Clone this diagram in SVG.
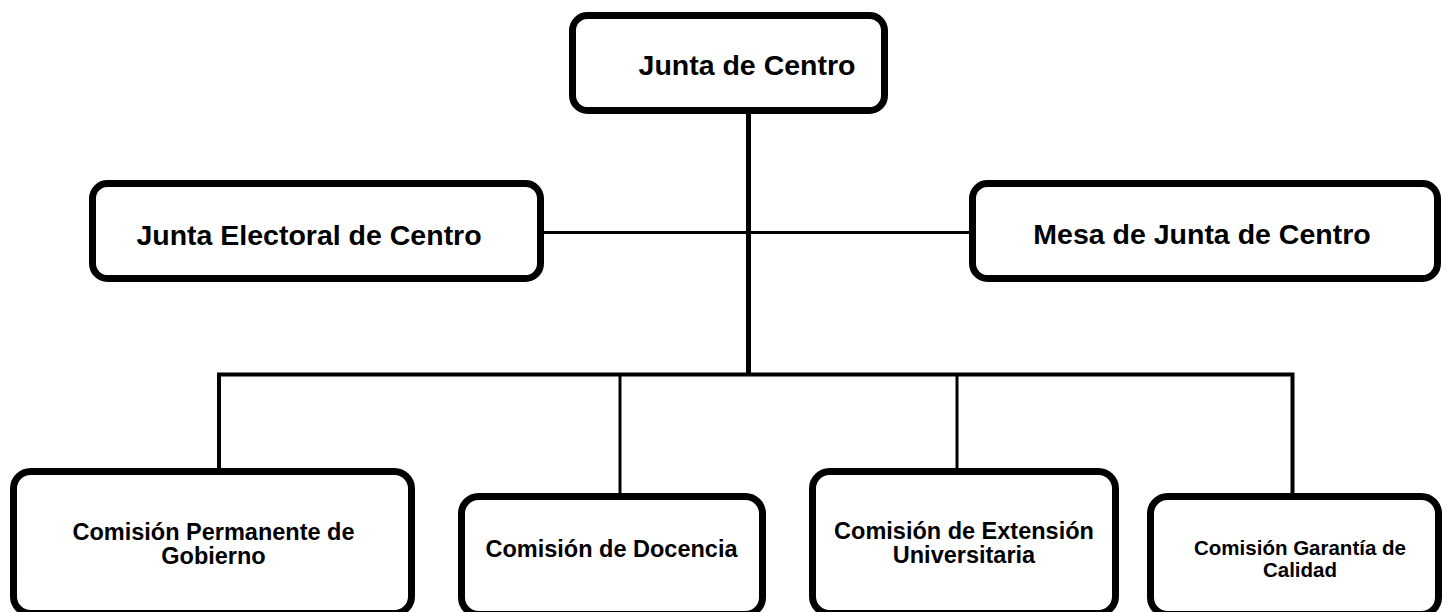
<svg xmlns="http://www.w3.org/2000/svg" width="1447" height="612" viewBox="0 0 1447 612">
<style>
.box{fill:#fff;stroke:#000;stroke-width:7}
.t{font-family:"Liberation Sans",Arial,sans-serif;font-weight:bold;fill:#000;text-anchor:middle}
.big{font-size:28.5px}
.mid{font-size:23.5px}
.sm{font-size:20.5px}
.c{fill:none;stroke:#000;stroke-linecap:butt}
</style>
<rect width="1447" height="612" fill="#fff"/>
<g id="connectors">
<line class="c" x1="748.5" y1="112" x2="748.5" y2="376" stroke-width="5"/>
<line class="c" x1="543" y1="232.5" x2="970" y2="232.5" stroke-width="3"/>
<path class="c" d="M219,470 V374.5 H1292.5 V495" stroke-width="4"/>
<line class="c" x1="620" y1="374" x2="620" y2="495" stroke-width="3"/>
<line class="c" x1="957" y1="374" x2="957" y2="470" stroke-width="3"/>
</g>
<g id="junta-centro">
<rect class="box" x="572.5" y="15.5" width="312" height="95" rx="15"/>
<text class="t big" x="747" y="75">Junta de Centro</text>
</g>
<g id="junta-electoral">
<rect class="box" x="92.5" y="183.5" width="448" height="95" rx="15"/>
<text class="t big" x="309" y="245">Junta Electoral de Centro</text>
</g>
<g id="mesa">
<rect class="box" x="972.5" y="183.5" width="465" height="95" rx="15"/>
<text class="t big" x="1202" y="244">Mesa de Junta de Centro</text>
</g>
<g id="com-permanente">
<rect class="box" x="13.5" y="471.5" width="398" height="142" rx="17"/>
<text class="t mid" x="213.5" y="540">Comisión Permanente de</text>
<text class="t mid" x="213.5" y="564">Gobierno</text>
</g>
<g id="com-docencia">
<rect class="box" x="461.5" y="496.5" width="301" height="118" rx="17"/>
<text class="t mid" x="611.5" y="557">Comisión de Docencia</text>
</g>
<g id="com-extension">
<rect class="box" x="812.5" y="471.5" width="303" height="142" rx="17"/>
<text class="t mid" x="964" y="539">Comisión de Extensión</text>
<text class="t mid" x="964" y="563">Universitaria</text>
</g>
<g id="com-calidad">
<rect class="box" x="1150.5" y="496.5" width="288" height="118" rx="17"/>
<text class="t sm" x="1300" y="555">Comisión Garantía de</text>
<text class="t sm" x="1300" y="577">Calidad</text>
</g>
</svg>
